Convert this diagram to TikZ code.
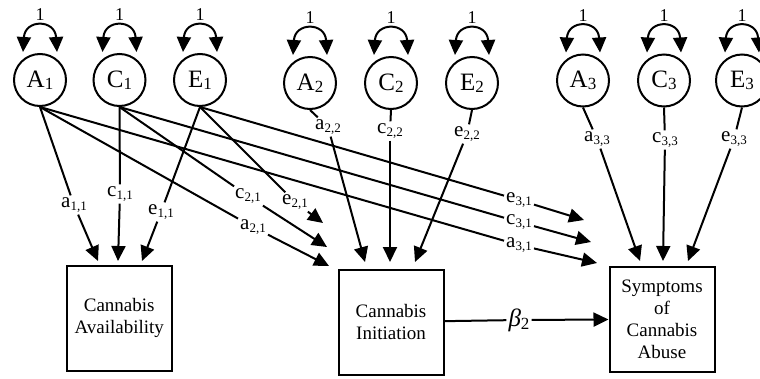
\documentclass[tikz,border=0pt]{standalone}
\usepackage{fontspec}
\setmainfont{Liberation Serif}
\usetikzlibrary{arrows.meta,calc}
\newcommand\sublab[2]{#1\raisebox{-3pt}{\fontsize{13}{13}\selectfont #2}}
\newcommand\latlab[2]{#1\raisebox{-2pt}{\fontsize{17}{17}\selectfont #2}}
\newcommand\varloop[1]{%
  \draw[conn,{Triangle[length=15pt,width=14pt]}-{Triangle[length=15pt,width=14pt]}]
    ($(#1)+(-17,-28)$) .. controls ($(#1)+(-15,-61)$) and ($(#1)+(15,-61)$) .. ($(#1)+(17,-28)$);
  \node[one] (one#1) at ($(#1)+(0,-65)$) {1};}
\begin{document}
\begin{tikzpicture}[x=1pt,y=-1pt,
  conn/.style={line width=2pt},
  arr/.style={conn,-{Triangle[length=15pt,width=14pt]}},
  lat/.style={circle,draw,line width=2pt,minimum size=52pt,inner sep=0pt,font=\fontsize{25}{30}\selectfont},
  obs/.style={rectangle,draw,line width=2pt,minimum width=105pt,minimum height=105pt,align=center,font=\fontsize{19}{22}\selectfont},
  lab/.style={inner sep=2pt,font=\fontsize{21}{24}\selectfont},
  one/.style={inner sep=0pt,font=\fontsize{18}{20}\selectfont}]
\useasboundingbox (0,0) rectangle (760,378);
\clip (0,0) rectangle (760,378);

% latent variables
\node[lat] (A1) at (40,80) {\latlab{A}{1}};
\node[lat] (C1) at (119.5,80) {\latlab{C}{1}};
\node[lat] (E1) at (200,80) {\latlab{E}{1}};
\node[lat] (A2) at (310,83) {\latlab{A}{2}};
\node[lat] (C2) at (391,83) {\latlab{C}{2}};
\node[lat] (E2) at (472,83) {\latlab{E}{2}};
\node[lat] (A3) at (583,80.5) {\latlab{A}{3}};
\node[lat] (C3) at (664,80.5) {\latlab{C}{3}};
\node[lat] (E3) at (742,80.5) {\latlab{E}{3}};

\varloop{A1}\varloop{C1}\varloop{E1}
\varloop{A2}\varloop{C2}\varloop{E2}
\varloop{A3}\varloop{C3}\varloop{E3}

% observed variables
\node[obs] (B1) at (119.2,318.2) {Cannabis\\Availability};
\node[obs] (B2) at (391,322) {Cannabis\\Initiation};
\node[obs] (B3) at (662,319.2) {Symptoms\\of\\Cannabis\\Abuse};

% path labels
\node[lab] (la11) at (74,205) {\sublab{a}{1,1}};
\node[lab] (lc11) at (120,194) {\sublab{c}{1,1}};
\node[lab] (le11) at (161,212) {\sublab{e}{1,1}};
\node[lab] (la21) at (253,227) {\sublab{a}{2,1}};
\node[lab] (lc21) at (248,196) {\sublab{c}{2,1}};
\node[lab] (le21) at (295,202) {\sublab{e}{2,1}};
\node[lab] (le31) at (519,200) {\sublab{e}{3,1}};
\node[lab] (lc31) at (519,222) {\sublab{c}{3,1}};
\node[lab] (la31) at (519,245) {\sublab{a}{3,1}};
\node[lab] (la22) at (328,127) {\sublab{a}{2,2}};
\node[lab] (lc22) at (390,131) {\sublab{c}{2,2}};
\node[lab] (le22) at (467,134) {\sublab{e}{2,2}};
\node[lab] (la33) at (597,139) {\sublab{a}{3,3}};
\node[lab] (lc33) at (665,140) {\sublab{c}{3,3}};
\node[lab] (le33) at (734,139) {\sublab{e}{3,3}};
\node[lab,font=\fontsize{25}{28}\selectfont] (lb2) at (519,320) {{\itshape β}\raisebox{-3pt}{\fontsize{17}{17}\selectfont 2}};

% arrow tips
\coordinate (ta11) at (98,261);
\coordinate (tc11) at (118,261);
\coordinate (te11) at (142,261);
\coordinate (ta21) at (329,266);
\coordinate (tc21) at (327,247);
\coordinate (te21) at (323,223);
\coordinate (ta22) at (365,262);
\coordinate (tc22) at (390,262);
\coordinate (te22) at (415,262);
\coordinate (te31) at (584,220);
\coordinate (tc31) at (591,242);
\coordinate (ta31) at (597,263);
\coordinate (ta33) at (640,261);
\coordinate (tc33) at (663,261);
\coordinate (te33) at (688,261);

% group 1
\draw[conn] (A1.south) -- (la11); \draw[arr] (la11) -- (ta11);
\draw[conn] (C1.south) -- (lc11); \draw[arr] (lc11) -- (tc11);
\draw[conn] (E1.south) -- (le11); \draw[arr] (le11) -- (te11);
\draw[conn] (A1.south) -- (la21); \draw[arr] (la21) -- (ta21);
\draw[conn] (C1.south) -- (lc21); \draw[arr] (lc21) -- (tc21);
\draw[conn] (E1.south) -- (le21); \draw[arr] (le21) -- (te21);
\draw[conn] (A1.south) -- (la31); \draw[arr] (la31) -- (ta31);
\draw[conn] (C1.south) -- (lc31); \draw[arr] (lc31) -- (tc31);
\draw[conn] (E1.south) -- (le31); \draw[arr] (le31) -- (te31);
% group 2
\draw[conn] (A2.south) -- (la22); \draw[arr] (la22) -- (ta22);
\draw[conn] (C2.south) -- (lc22); \draw[arr] (lc22) -- (tc22);
\draw[conn] (E2.south) -- (le22); \draw[arr] (le22) -- (te22);
% group 3
\draw[conn] (A3.south) -- (la33); \draw[arr] (la33) -- (ta33);
\draw[conn] (C3.south) -- (lc33); \draw[arr] (lc33) -- (tc33);
\draw[conn] (E3.south) -- (le33); \draw[arr] (le33) -- (te33);
% beta
\draw[conn] (B2) -- (lb2); \draw[arr] (lb2) -- (B3);
\end{tikzpicture}
\end{document}
